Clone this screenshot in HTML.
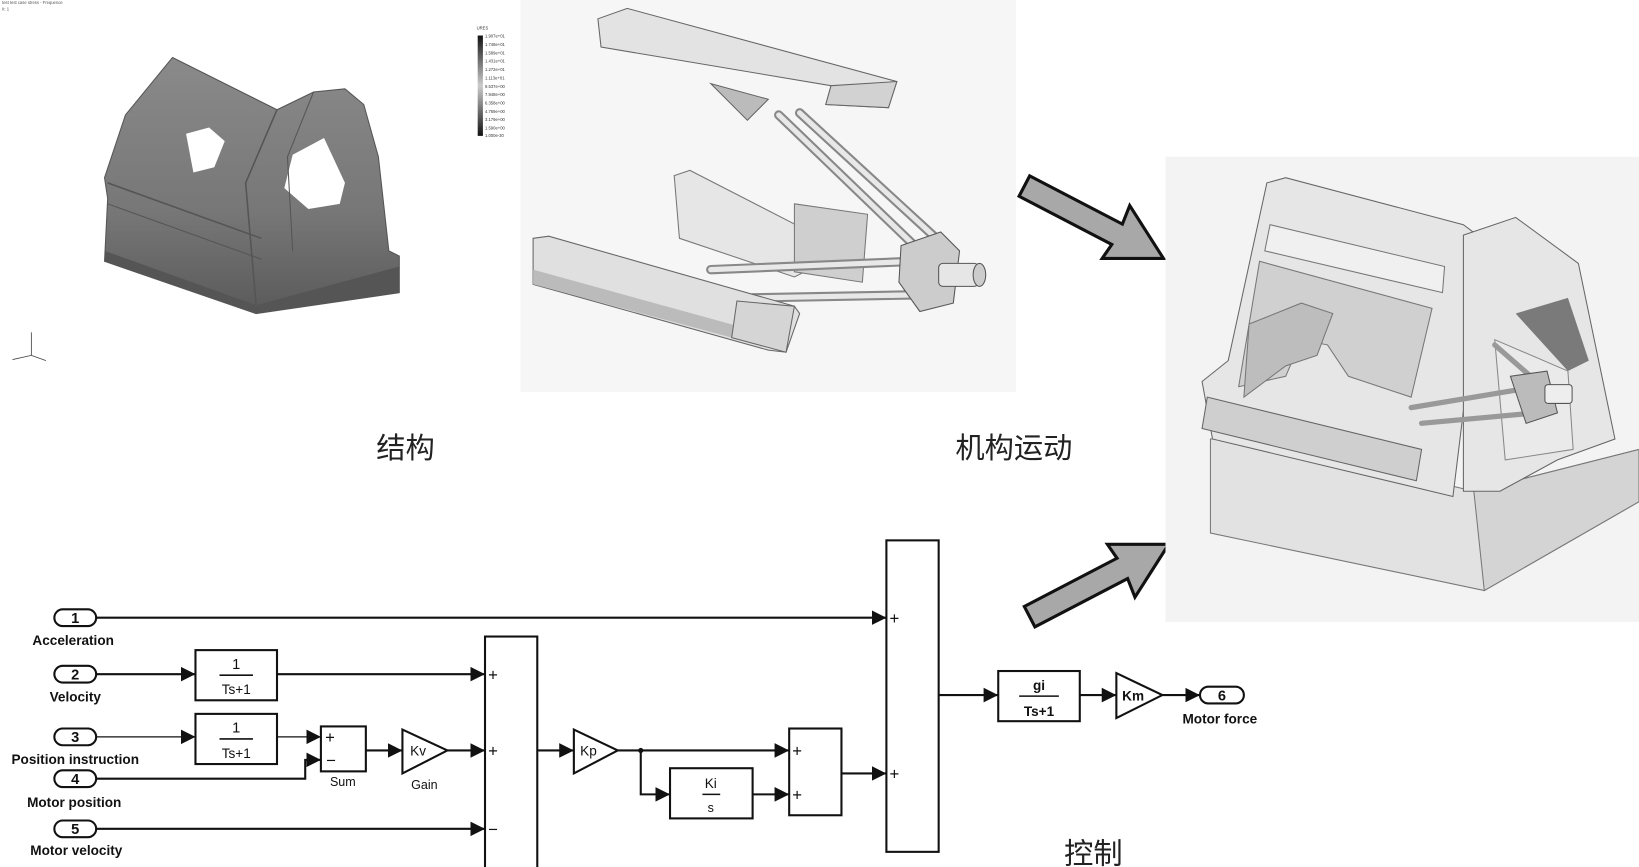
<!DOCTYPE html>
<html><head><meta charset="utf-8">
<style>
html,body{margin:0;padding:0;background:#fff;}
svg{display:block;}
.t{font-family:"Liberation Sans",Arial,sans-serif;font-weight:bold;fill:#111;}
.cn{font-family:"Liberation Sans","Noto Sans CJK SC",sans-serif;fill:#222;font-size:28px;}
</style></head><body>
<svg width="1639" height="867" viewBox="0 0 1568 829.5" preserveAspectRatio="none" xmlns="http://www.w3.org/2000/svg">
<defs>
<linearGradient id="g1" x1="0" y1="0" x2="0" y2="1">
<stop offset="0" stop-color="#8a8a8a"/><stop offset="0.6" stop-color="#777"/><stop offset="1" stop-color="#5a5a5a"/>
</linearGradient>
<linearGradient id="cb" x1="0" y1="0" x2="0" y2="1">
<stop offset="0" stop-color="#111"/><stop offset="0.5" stop-color="#ccc"/><stop offset="1" stop-color="#111"/>
</linearGradient>
<marker id="ar" viewBox="0 0 10 10" refX="10" refY="5" markerWidth="14" markerHeight="14" markerUnits="userSpaceOnUse" orient="auto">
<path d="M0,0 L10,5 L0,10 z" fill="#111"/>
</marker>
</defs>
<rect width="1568" height="830" fill="#fff"/>

<text x="2" y="4" font-size="4" font-family="Liberation Sans" fill="#555">test test case stress - Frequence</text>
<text x="2" y="10" font-size="4" font-family="Liberation Sans" fill="#555">It: 1</text>
<polygon points="165,55 215,80 265,105 300,88 330,85 348,100 362,150 372,240 382,245 382,280 245,300 100,250 103,190 100,170 120,110" fill="url(#g1)" stroke="#555" stroke-width="1"/>
<polygon points="100,240 245,292 382,255 382,280 245,300 100,250" fill="#555"/>
<polygon points="178,128 200,122 215,135 205,160 185,165" fill="#fff"/>
<polygon points="280,148 310,132 330,175 325,195 295,200 272,180" fill="#fff"/>
<polyline points="265,105 235,175 245,292" fill="none" stroke="#555" stroke-width="1.5"/>
<polyline points="300,88 275,150 280,240" fill="none" stroke="#555" stroke-width="1"/>
<polyline points="103,175 250,228" fill="none" stroke="#555" stroke-width="1.5"/>
<polyline points="103,195 250,248" fill="none" stroke="#555" stroke-width="1"/>
<rect x="457" y="34" width="5" height="96" fill="url(#cb)"/>
<text x="456" y="28" font-size="4" fill="#333" font-family="Liberation Sans">URES</text>
<g font-size="4" fill="#333" font-family="Liberation Sans">
<text x="464" y="36">1.907e+01</text><text x="464" y="44">1.748e+01</text><text x="464" y="52">1.589e+01</text><text x="464" y="60">1.431e+01</text><text x="464" y="68">1.272e+01</text><text x="464" y="76">1.113e+01</text><text x="464" y="84">9.537e+00</text><text x="464" y="92">7.948e+00</text><text x="464" y="100">6.358e+00</text><text x="464" y="108">4.769e+00</text><text x="464" y="116">3.179e+00</text><text x="464" y="124">1.590e+00</text><text x="464" y="131">1.000e-30</text>
</g>
<g stroke="#444" stroke-width="0.8" fill="none"><line x1="30" y1="340" x2="30" y2="318"/><line x1="30" y1="340" x2="12" y2="344"/><line x1="30" y1="340" x2="44" y2="345"/></g>

<rect x="498" y="0" width="474" height="375" fill="#f6f6f6"/>
<polygon points="572,18 600,8 858,78 850,103 790,100 795,82 575,45" fill="#e3e3e3" stroke="#666" stroke-width="1"/>
<polygon points="795,82 858,78 850,103 790,100" fill="#d2d2d2" stroke="#666"/>
<polygon points="680,80 735,95 715,115" fill="#bbb" stroke="#666"/>
<polygon points="645,168 660,163 775,222 780,255 760,265 650,228" fill="#e6e6e6" stroke="#777"/>
<polygon points="760,195 830,205 825,270 760,260" fill="#cfcfcf" stroke="#777"/>
<g stroke="#888" stroke-width="9" stroke-linecap="round">
<line x1="745" y1="110" x2="880" y2="240"/><line x1="765" y1="108" x2="900" y2="232"/>
<line x1="680" y1="258" x2="875" y2="250"/><line x1="720" y1="285" x2="880" y2="282"/>
</g>
<g stroke="#e8e8e8" stroke-width="5" stroke-linecap="round">
<line x1="745" y1="110" x2="880" y2="240"/><line x1="765" y1="108" x2="900" y2="232"/>
<line x1="680" y1="258" x2="875" y2="250"/><line x1="720" y1="285" x2="880" y2="282"/>
</g>
<polygon points="862,235 900,222 918,240 912,290 880,298 860,270" fill="#ccc" stroke="#555"/>
<rect x="898" y="252" width="38" height="22" rx="4" fill="#e6e6e6" stroke="#555"/>
<ellipse cx="937" cy="263" rx="6" ry="11" fill="#ccc" stroke="#555"/>
<polygon points="510,228 525,226 760,293 765,300 752,337 735,335 510,272" fill="#e0e0e0" stroke="#666"/>
<polygon points="510,258 735,320 752,337 510,272" fill="#bbb"/>
<polygon points="705,288 760,293 752,337 700,323" fill="#d5d5d5" stroke="#666"/>

<g fill="#a8a8a8" stroke="#111" stroke-width="3" stroke-linejoin="miter">
<polygon transform="translate(980,178) rotate(27.5)" points="0,-11 100,-11 98,-30 150,0 98,27 100,11 0,11"/>
<polygon transform="translate(985,590) rotate(-27.5)" points="0,-11 100,-11 98,-27 150,0 98,30 100,11 0,11"/>
</g>

<rect x="1115" y="150" width="453" height="445" fill="#f3f3f3"/>
<polygon points="1158,420 1200,420 1410,470 1568,430 1568,480 1420,565 1158,510" fill="#e2e2e2" stroke="#777"/>
<polygon points="1410,470 1568,430 1568,480 1420,565" fill="#d4d4d4" stroke="#777"/>
<polygon points="1150,365 1175,345 1212,175 1230,170 1400,215 1420,230 1390,475 1160,420" fill="#e6e6e6" stroke="#666"/>
<polygon points="1205,250 1370,295 1350,380 1290,360 1270,330 1245,325 1230,360 1185,370" fill="#d0d0d0" stroke="#777"/>
<polygon points="1195,310 1245,290 1275,300 1260,340 1230,350 1190,380" fill="#bdbdbd" stroke="#777"/>
<polygon points="1210,240 1380,280 1382,255 1215,215" fill="#f0f0f0" stroke="#777"/>
<polygon points="1155,380 1360,430 1355,460 1150,410" fill="#cfcfcf" stroke="#666"/>
<polygon points="1400,225 1450,208 1510,252 1545,420 1490,440 1435,470 1400,470" fill="#e6e6e6" stroke="#666"/>
<polygon points="1450,300 1500,285 1520,345 1500,355" fill="#7a7a7a"/>
<polygon points="1430,325 1500,355 1505,430 1440,440" fill="#eaeaea" stroke="#888"/>
<g stroke="#999" stroke-width="5" stroke-linecap="round"><line x1="1350" y1="390" x2="1470" y2="370"/><line x1="1360" y1="405" x2="1470" y2="395"/><line x1="1430" y1="330" x2="1470" y2="365"/></g>
<polygon points="1445,360 1480,355 1490,395 1460,405" fill="#bbb" stroke="#555"/>
<rect x="1478" y="368" width="26" height="18" rx="3" fill="#eee" stroke="#555"/>

<text class="cn" x="360" y="438">结构</text>
<text class="cn" x="914" y="438">机构运动</text>
<text class="cn" x="1018" y="826">控制</text>

<g fill="none" stroke="#111" stroke-width="2">
<rect x="52" y="583" width="40" height="16" rx="8"/>
<rect x="52" y="637" width="40" height="16" rx="8"/>
<rect x="52" y="697" width="40" height="16" rx="8"/>
<rect x="52" y="737" width="40" height="16" rx="8"/>
<rect x="52" y="785" width="40" height="16" rx="8"/>
<rect x="1148" y="657" width="42" height="16" rx="8"/>
<rect x="187" y="622" width="78" height="48"/>
<rect x="187" y="683" width="78" height="48"/>
<rect x="307" y="695" width="43" height="43"/>
<polygon points="385,698 428,718 385,740"/>
<rect x="464" y="609" width="50" height="230"/>
<polygon points="549,698 591,718 549,740"/>
<rect x="641" y="735" width="79" height="48"/>
<rect x="755" y="697" width="50" height="83"/>
<rect x="848" y="517" width="50" height="298"/>
<rect x="955" y="642" width="78" height="48"/>
<polygon points="1068,644 1112,665 1068,687"/>
<line x1="92" y1="591" x2="848" y2="591" marker-end="url(#ar)"/>
<line x1="92" y1="645" x2="187" y2="645" marker-end="url(#ar)"/>
<line x1="265" y1="645" x2="464" y2="645" marker-end="url(#ar)"/>
<line x1="92" y1="705" x2="187" y2="705" stroke-width="1.3" marker-end="url(#ar)"/>
<line x1="265" y1="705" x2="307" y2="705" stroke-width="1.3" marker-end="url(#ar)"/>
<polyline points="92,745 292,745 292,727 307,727" marker-end="url(#ar)"/>
<line x1="350" y1="718" x2="385" y2="718" marker-end="url(#ar)"/>
<line x1="428" y1="718" x2="464" y2="718" marker-end="url(#ar)"/>
<line x1="92" y1="793" x2="464" y2="793" marker-end="url(#ar)"/>
<line x1="514" y1="718" x2="549" y2="718" marker-end="url(#ar)"/>
<line x1="591" y1="718" x2="755" y2="718" marker-end="url(#ar)"/>
<polyline points="613,718 613,760 641,760" marker-end="url(#ar)"/>
<line x1="720" y1="760" x2="755" y2="760" marker-end="url(#ar)"/>
<line x1="805" y1="740" x2="848" y2="740" marker-end="url(#ar)"/>
<line x1="898" y1="665" x2="955" y2="665" marker-end="url(#ar)"/>
<line x1="1033" y1="665" x2="1068" y2="665" marker-end="url(#ar)"/>
<line x1="1112" y1="665" x2="1148" y2="665" marker-end="url(#ar)"/>
<line x1="210" y1="646" x2="242" y2="646" stroke-width="1.5"/>
<line x1="210" y1="707" x2="242" y2="707" stroke-width="1.5"/>
<line x1="672" y1="760" x2="689" y2="760" stroke-width="1.5"/>
<line x1="975" y1="666" x2="1013" y2="666" stroke-width="1.5"/>
</g>
<circle cx="613" cy="718" r="2.5" fill="#111"/>
<g class="t" font-size="14" text-anchor="middle">
<text x="72" y="596">1</text><text x="72" y="650">2</text><text x="72" y="710">3</text><text x="72" y="750">4</text><text x="72" y="798">5</text><text x="1169" y="670">6</text>
</g>
<g class="t" font-size="13" text-anchor="middle">
<text x="70" y="617">Acceleration</text>
<text x="72" y="671">Velocity</text>
<text x="72" y="731">Position instruction</text>
<text x="71" y="772">Motor position</text>
<text x="73" y="818">Motor velocity</text>
<text x="1167" y="692">Motor force</text>
<text x="328" y="752" font-size="12" font-weight="normal">Sum</text>
<text x="406" y="755" font-size="12" font-weight="normal">Gain</text>
</g>
<g font-family="Liberation Sans,Arial,sans-serif" fill="#111" text-anchor="middle">
<text x="226" y="640" font-size="14">1</text><text x="226" y="664" font-size="13">Ts+1</text>
<text x="226" y="701" font-size="14">1</text><text x="226" y="725" font-size="13">Ts+1</text>
<text x="680" y="754" font-size="13">Ki</text><text x="680" y="777" font-size="12">s</text>
<text x="994" y="660" font-size="13" font-weight="bold">gi</text><text x="994" y="685" font-size="13" font-weight="bold">Ts+1</text>
<text x="400" y="723" font-size="13">Kv</text>
<text x="563" y="723" font-size="13">Kp</text>
<text x="1084" y="670" font-size="13" font-weight="bold">Km</text>
</g>
<g font-family="Liberation Sans,Arial,sans-serif" fill="#111" font-size="16">
<text x="311" y="711">+</text><text x="312" y="733">−</text>
<text x="467" y="651">+</text><text x="467" y="724">+</text><text x="467" y="799">−</text>
<text x="758" y="724">+</text><text x="758" y="766">+</text>
<text x="851" y="597">+</text><text x="851" y="746">+</text>
</g>
</svg>
</body></html>
